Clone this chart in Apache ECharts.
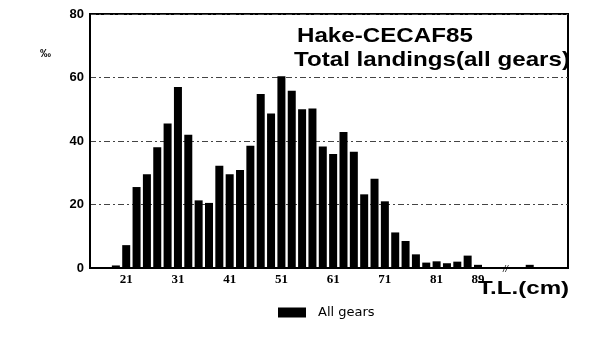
<!DOCTYPE html>
<html>
<head>
<meta charset="utf-8">
<script src="https://cdn.jsdelivr.net/npm/echarts@6/dist/echarts.min.js"></script>
<style>html,body{margin:0;padding:0;background:#fff;}#c{width:600px;height:355px;}</style>
</head>
<body>
<div id="c"></div>
<script>
// Length classes (cm, class mid-points) and landings in per mille
var lengthClasses = [17,19,21,23,25,27,29,31,33,35,37,39,41,43,45,47,49,51,53,55,57,59,61,63,65,67,69,71,73,75,77,79,81,83,85,87,89,99];
var perMille = [0.3,0.8,7.2,25.5,29.5,38,45.5,57,42,21.3,20.5,32.2,29.5,30.9,38.5,54.8,48.7,60.4,55.8,50,50.2,38.3,35.9,42.8,36.6,23.2,28.1,21,11.2,8.5,4.3,1.7,2.1,1.5,2,3.9,1,1];
var xTickLabels = [21,31,41,51,61,71,81,89];
var yTicks = [0,20,40,60,80];
var seriesName = 'All gears';
var titleLines = ['Hake-CECAF85', 'Total landings(all gears)'];

var chart = echarts.init(document.getElementById('c'), null, {renderer: 'canvas'});
var data = lengthClasses.map(function (x, i) { return [x, perMille[i]]; });

chart.setOption({
  animation: false,
  backgroundColor: '#fff',
  grid: {left: 90, right: 32, top: 14, bottom: 87, show: true, borderColor: '#000', borderWidth: 2},
  legend: {
    data: [seriesName], left: 278, top: 306, padding: 0, icon: 'rect', itemWidth: 28, itemHeight: 10, itemGap: 12,
    textStyle: {fontFamily: 'DejaVu Sans', fontSize: 13, color: '#000', padding: [0, 0, 0, 7]}
  },
  xAxis: {
    type: 'value', min: 14, max: 106.4, interval: 1,
    axisLine: {show: true, lineStyle: {color: '#000', width: 2}},
    axisTick: {show: false},
    splitLine: {show: false},
    axisLabel: {
      color: '#000', fontFamily: 'Liberation Sans Narrow', fontWeight: 'bold', fontSize: 13, margin: 5,
      showMinLabel: false, showMaxLabel: false,
      formatter: function (v) { return xTickLabels.indexOf(v) >= 0 ? String(v) : ''; }
    }
  },
  yAxis: {
    type: 'value', min: 0, max: 80, interval: 20,
    axisLine: {show: true, lineStyle: {color: '#000', width: 2}},
    axisTick: {show: false},
    splitLine: {show: true, lineStyle: {color: '#444', width: 1, type: [6, 3, 2, 3]}},
    axisLabel: {color: '#000', fontFamily: 'Liberation Sans', fontWeight: 'bold', fontSize: 13, margin: 6,
      formatter: function (v) { return yTicks.indexOf(v) >= 0 ? String(v) : ''; }}
  },
  series: [{
    name: seriesName, type: 'bar', data: data, barWidth: 8,
    itemStyle: {color: '#000'}
  }],
  graphic: [
    {type: 'text', x: 297, y: 26, scaleX: 1.15, z: 11, style: {text: titleLines[0], font: 'bold 21px "Liberation Sans"', fill: '#000'}},
    {type: 'text', x: 294, y: 50, scaleX: 1.15, z: 11, style: {text: titleLines[1], font: 'bold 21px "Liberation Sans"', fill: '#000'}},
    {type: 'text', left: 40, top: 48, style: {text: '‰', font: 'bold 11px "Liberation Sans"', fill: '#000'}},
    {type: 'text', left: 503, top: 265, style: {text: '//', font: 'italic 9px "Liberation Sans"', fill: '#000'}},
    {type: 'text', x: 478, y: 279, scaleX: 1.27, style: {text: 'T.L.(cm)', font: 'bold 19px "Liberation Sans"', fill: '#000'}}
  ]
});
</script>
</body>
</html>
